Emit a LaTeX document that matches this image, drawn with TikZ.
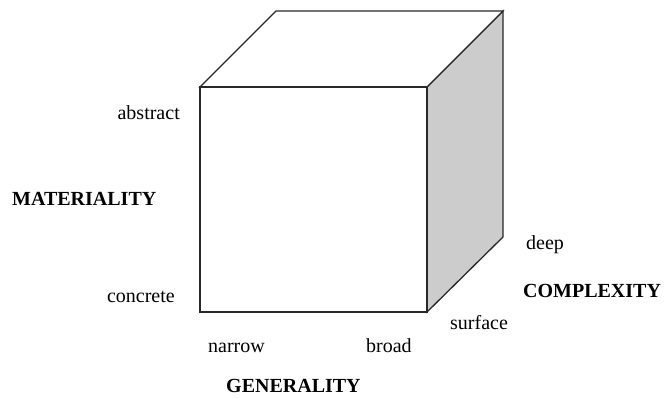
\documentclass[tikz,border=0pt]{standalone}
\usepackage{fontspec}
\setmainfont{Liberation Serif}
\usetikzlibrary{positioning,calc}
\definecolor{edgecolor}{RGB}{40,40,40}
\definecolor{sidecolor}{RGB}{204,204,204}

\tikzset{
  pole/.style={font=\fontsize{20}{24}\selectfont, inner sep=0pt},
  axisname/.style={font=\fontsize{20}{24}\selectfont\bfseries, inner sep=0pt},
  cubeline/.style={draw=edgecolor, line width=1.3pt, line join=miter}
}

\begin{document}
\begin{tikzpicture}[x=1pt,y=-1pt]

\useasboundingbox (0,0) rectangle (664,398);

% ---- Cube corners ----
\coordinate (fbl) at (200,312);
\coordinate (fbr) at (427,312);
\coordinate (ftl) at (200,87);
\coordinate (ftr) at (427,87);
\coordinate (btl) at (276,11);
\coordinate (btr) at (503,11);
\coordinate (bbr) at (503,237);

% ---- Faces ----
\draw[cubeline, fill=sidecolor] (fbr) -- (ftr) -- (btr) -- (bbr) -- cycle;
\draw[cubeline, fill=white] (ftl) -- (btl) -- (btr) -- (ftr) -- cycle;
\draw[cubeline, fill=white] (fbl) -- (ftl) -- (ftr) -- (fbr) -- cycle;

% ---- Materiality (vertical) ----
\node[pole, anchor=base east] (abstract) at (180,120) {abstract};
\node[pole, anchor=base east] (concrete) at (175,302) {concrete};
\node[axisname, anchor=base west] (materiality) at (12,206) {MATERIALITY};

% ---- Generality (horizontal) ----
\node[pole, anchor=base west] (narrow) at (208,352) {narrow};
\node[pole, anchor=base west] (broad) at (366,352) {broad};
\node[axisname, anchor=base west] (generality) at (226,392) {GENERALITY};

% ---- Complexity (depth) ----
\node[pole, anchor=base west] (surface) at (450,329) {surface};
\node[pole, anchor=base west] (deep) at (526,249) {deep};
\node[axisname, anchor=base west] (complexity) at (523,297) {COMPLEXITY};

\end{tikzpicture}
\end{document}
